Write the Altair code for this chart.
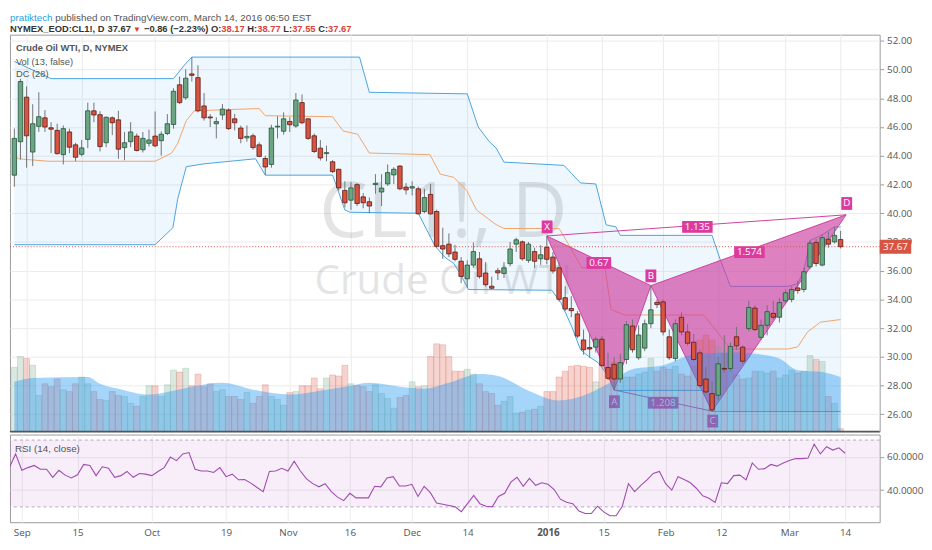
import altair as alt
import pandas as pd

FONT = "Open Sans"
HEAD_FONT = "Liberation Sans"
TEXT = "#555555"
DARK = "#333333"
RED = "#d9433a"
GRID = "#ececec"
TICK = "#9a9a9a"
UP, DOWN = "#6ba583", "#d75442"
UP_EDGE, DOWN_EDGE = "#225437", "#5b1a13"
WICK = "#737375"
DC_BLUE = "#4aa3df"
DC_ORANGE = "#f2a469"
PINK = "#d0409f"
PINK_FILL = "#cc3d9e"
RSI_COLOR = "#a04cb0"

W, H_MAIN, H_RSI = 883, 403, 89

# ---- daily bars, Aug 28 2015 (index -2) .. Mar 14 2016 (index 133) ----
first_bar = -2
opens = [
    42.65, 44.98, 48.08, 44.26, 46.05, 46.64, 45.95, 45.77, 44.08, 45.66,
    44.76, 44.10, 45.14, 47.13, 46.86, 44.91, 46.64, 46.50, 44.57, 44.98,
    45.37, 44.42, 44.87, 45.37, 45.05, 45.55, 46.18, 48.94, 48.04, 49.70,
    49.44, 47.47, 46.70, 46.23, 46.84, 47.18, 46.57, 45.93, 45.25, 45.39,
    44.76, 43.81, 43.40, 46.00, 45.71, 46.39, 46.07, 47.70, 46.57, 45.39,
    44.53, 44.15, 43.58, 43.06, 41.59, 40.91, 41.99, 41.14, 40.80, 42.00,
    41.48, 42.04, 42.67, 43.28, 41.82, 41.75, 41.70, 40.12, 41.31, 40.12,
    37.74, 37.85, 37.30, 36.66, 35.44, 36.39, 36.83, 35.84, 34.92, 36.00,
    35.81, 36.49, 37.85, 38.01, 36.72, 37.33, 36.83, 37.63, 36.95, 36.20,
    34.12, 33.37, 32.99, 31.18, 30.65, 30.68, 31.23, 29.26, 29.48, 28.46,
    29.82, 32.15, 29.94, 30.61, 32.31, 33.80, 33.83, 31.40, 29.89, 32.76,
    31.74, 31.02, 30.28, 28.46, 27.44, 27.33, 29.20, 29.19, 31.40, 30.68,
    31.97, 33.40, 31.36, 32.20, 33.03, 32.76, 33.90, 34.00, 34.80, 34.69,
    36.27, 37.97, 36.39, 38.19, 38.01, 38.17,
]
highs = [
    45.90, 49.35, 48.83, 47.59, 48.42, 47.18, 46.34, 46.23, 46.11, 45.89,
    44.90, 45.10, 47.70, 47.70, 47.10, 46.74, 46.74, 47.13, 45.66, 46.34,
    45.55, 45.66, 45.82, 47.09, 45.70, 46.90, 48.70, 49.51, 50.03, 50.87,
    50.30, 48.37, 46.90, 46.68, 47.60, 47.30, 46.91, 46.10, 46.11, 45.55,
    44.93, 44.00, 46.16, 46.75, 47.02, 46.68, 48.37, 48.27, 46.60, 45.55,
    45.10, 44.71, 43.70, 43.10, 42.22, 42.16, 42.10, 41.40, 41.10, 42.72,
    42.72, 43.40, 43.20, 43.35, 42.10, 42.22, 41.85, 41.70, 42.04, 40.25,
    38.99, 38.60, 37.80, 36.95, 36.72, 37.97, 37.30, 36.60, 35.59, 36.20,
    36.60, 38.00, 38.30, 38.10, 38.00, 37.60, 37.78, 38.42, 37.30, 36.60,
    34.91, 34.23, 33.20, 31.90, 31.60, 31.40, 31.45, 30.28, 30.00, 30.20,
    32.50, 32.60, 32.20, 32.60, 34.96, 34.00, 34.00, 31.90, 32.60, 33.10,
    32.30, 31.60, 30.50, 29.30, 28.30, 30.00, 31.52, 31.00, 32.08, 30.80,
    33.90, 33.60, 32.60, 33.60, 33.90, 34.10, 34.70, 34.90, 35.30, 36.20,
    38.10, 38.20, 38.50, 38.70, 39.05, 38.77,
]
lows = [
    41.84, 43.74, 43.17, 43.28, 45.66, 45.66, 44.19, 44.08, 43.40, 44.19,
    43.62, 43.96, 44.53, 46.34, 44.30, 44.60, 45.44, 43.79, 43.69, 44.60,
    44.30, 44.23, 44.64, 44.60, 44.01, 45.44, 45.89, 47.60, 47.90, 49.17,
    47.02, 46.45, 46.00, 45.21, 46.50, 45.80, 45.77, 44.87, 44.98, 44.42,
    43.90, 42.67, 43.17, 45.21, 45.48, 45.66, 45.95, 46.20, 45.10, 44.19,
    43.67, 43.62, 42.80, 41.59, 40.41, 40.23, 40.50, 40.34, 40.00, 41.36,
    40.50, 41.90, 42.04, 41.60, 41.30, 41.24, 39.90, 40.00, 39.90, 37.60,
    36.83, 36.95, 36.65, 35.14, 34.80, 36.20, 35.45, 34.90, 34.69, 35.35,
    35.50, 36.30, 37.30, 36.70, 36.55, 36.20, 36.40, 36.45, 35.80, 33.85,
    33.20, 32.76, 31.30, 30.16, 29.95, 30.30, 29.30, 28.40, 27.70, 28.20,
    29.50, 30.30, 29.80, 30.40, 32.00, 33.40, 31.50, 29.80, 29.70, 31.50,
    30.80, 29.70, 27.85, 27.40, 26.20, 27.00, 28.90, 29.00, 30.50, 29.50,
    31.80, 31.80, 31.18, 31.50, 32.60, 32.40, 33.70, 33.80, 34.40, 34.50,
    36.10, 36.30, 36.30, 37.60, 37.90, 37.55,
]
closes = [
    45.21, 49.17, 45.39, 46.23, 46.72, 46.00, 45.85, 44.15, 45.89, 44.60,
    43.90, 44.55, 47.13, 46.84, 44.64, 46.68, 46.30, 44.46, 44.91, 45.66,
    44.37, 45.21, 45.10, 44.69, 45.50, 46.23, 48.49, 47.70, 49.40, 49.60,
    47.13, 46.64, 46.64, 46.38, 47.25, 45.89, 46.30, 45.21, 45.35, 44.57,
    43.96, 43.22, 45.93, 46.06, 46.57, 46.16, 47.88, 46.30, 45.21, 44.30,
    43.85, 44.22, 42.90, 41.77, 40.73, 41.77, 40.68, 40.73, 40.50, 42.08,
    41.75, 42.83, 43.06, 41.70, 41.63, 41.85, 39.96, 41.09, 39.96, 37.70,
    37.51, 37.17, 36.79, 35.60, 36.39, 37.33, 35.59, 35.03, 34.78, 35.85,
    36.20, 37.51, 38.15, 36.83, 37.85, 36.66, 37.11, 36.79, 35.98, 34.01,
    33.33, 33.22, 31.45, 30.50, 30.55, 31.23, 29.41, 28.51, 28.46, 29.60,
    32.24, 30.50, 31.52, 32.31, 33.28, 33.64, 31.74, 29.94, 32.31, 31.74,
    30.95, 29.82, 28.00, 27.56, 26.31, 29.52, 29.15, 30.73, 30.77, 29.70,
    33.44, 31.90, 32.20, 33.15, 32.76, 33.78, 34.46, 34.69, 34.62, 35.93,
    37.92, 36.50, 38.30, 37.85, 38.46, 37.67,
]
# volume, thousand contracts
volumes = [
    528, 616, 600, 544, 296, 392, 368, 432, 344, 328,
    392, 448, 392, 328, 264, 256, 328, 296, 288, 232,
    208, 288, 376, 376, 288, 384, 504, 488, 520, 376,
    472, 368, 392, 328, 344, 288, 288, 264, 320, 232,
    288, 384, 288, 264, 216, 320, 328, 376, 376, 440,
    352, 440, 464, 456, 544, 392, 376, 368, 328, 384,
    312, 272, 192, 280, 296, 408, 368, 376, 616, 720,
    712, 616, 496, 496, 512, 472, 392, 328, 312, 216,
    248, 288, 152, 160, 176, 184, 208, 328, 328, 448,
    496, 536, 544, 536, 528, 408, 552, 496, 568, 528,
    448, 448, 472, 488, 600, 496, 528, 512, 536, 472,
    456, 536, 752, 792, 752, 696, 640, 496, 464, 432,
    440, 496, 496, 480, 496, 440, 464, 504, 480, 496,
    624, 592, 576, 288, 232, 24,
]
rsi = [
    53.5, 61.7, 51.9, 53.5, 54.8, 52.5, 52.5, 47.7, 51.9, 49.0,
    47.3, 49.2, 55.4, 54.8, 48.7, 54.0, 53.1, 47.7, 48.7, 51.2,
    47.7, 50.0, 49.6, 48.7, 51.2, 53.5, 59.8, 57.7, 61.7, 62.5,
    52.5, 51.5, 51.5, 50.6, 53.5, 48.1, 49.6, 46.2, 46.4, 44.2,
    41.6, 39.1, 51.2, 51.5, 53.1, 51.5, 57.3, 51.5, 46.8, 43.9,
    42.0, 43.9, 39.1, 35.8, 33.7, 38.1, 35.4, 35.4, 35.4, 42.3,
    42.0, 47.3, 48.1, 42.5, 42.5, 43.5, 36.2, 42.3, 38.5, 32.3,
    31.6, 30.8, 30.0, 27.1, 31.9, 36.8, 31.9, 30.4, 30.0, 36.2,
    38.1, 44.8, 47.7, 42.3, 47.1, 42.9, 44.4, 43.5, 40.4, 34.6,
    32.7, 31.9, 27.5, 26.0, 26.0, 30.4, 27.0, 24.7, 24.7, 30.4,
    43.9, 39.1, 42.9, 46.2, 50.0, 51.2, 43.9, 40.0, 48.1, 46.4,
    44.4, 41.0, 36.6, 35.2, 32.7, 44.4, 43.9, 48.7, 49.0, 46.2,
    56.3, 52.5, 52.9, 55.4, 54.4, 56.3, 57.7, 58.9, 58.9, 59.2,
    67.5, 61.7, 66.0, 64.0, 65.4, 62.1,
]

# volume moving average (13), read at its turning points
vol_ma_index = [-2, 1, 10, 12, 15, 20, 24, 27, 32, 37, 43, 48, 53, 56, 61, 65,
                69, 74, 77, 82, 87, 91, 95, 99, 104, 109, 115, 120, 123, 126, 130, 133]
vol_ma = [408, 440, 448, 392, 352, 304, 336, 368, 400, 344, 304, 336, 376, 400, 368, 352,
          400, 472, 456, 336, 256, 296, 392, 512, 544, 632, 648, 632, 600, 504, 488, 448]

# Donchian channel (28) vertices
dc_upper_index = [-2, 4, 24, 25.8, 27, 54.4, 56, 72, 73.8, 75.6, 76.7, 78, 87.8, 90.5,
                  93, 94.7, 96.3, 97, 112, 113.3, 115, 124.4, 126, 127, 128, 130, 132, 133]
dc_upper = [50.57, 49.37, 49.37, 50.32, 50.87, 50.87, 48.42, 48.31, 46.00, 44.98, 44.55,
            43.56, 43.33, 42.11, 42.04, 39.19, 39.05, 38.46, 38.46, 36.81, 34.91, 34.91,
            35.10, 36.00, 38.10, 38.50, 39.05, 39.05]
dc_lower_index = [-2, 21, 23.9, 24.7, 26.1, 29, 33.3, 37.4, 39, 50, 52, 52.8, 64, 66.7,
                  68.3, 69.8, 70.8, 72.2, 85.8, 87.3, 89.1, 90.5, 91.8, 93.4, 95, 96.1,
                  110.4, 112, 133]
dc_lower = [37.81, 37.81, 38.99, 41.02, 43.24, 43.44, 43.62, 43.79, 42.65, 42.65, 40.23,
            40.07, 40.00, 37.74, 36.95, 36.50, 35.82, 34.69, 34.64, 33.78, 32.08, 30.50,
            30.04, 29.60, 28.69, 27.67, 27.67, 26.20, 26.20]
dc_mid_index = [-2, -1.3, 3.5, 21, 23.7, 24.7, 26.1, 27.4, 38, 39, 50, 51.7, 54.1, 56,
                65.9, 67.6, 69.8, 71.9, 73.5, 76.7, 78, 87, 88.6, 90.7, 94.5, 95.5, 97.7,
                110.6, 112, 115, 124.4, 126, 127.6, 129.7, 133]
dc_mid = [43.96, 43.79, 43.62, 43.62, 44.19, 44.87, 46.45, 47.13, 47.29, 46.79, 46.72,
          45.73, 45.50, 44.19, 44.08, 42.72, 42.50, 41.59, 40.23, 39.21, 38.94, 38.94,
          37.80, 36.21, 36.21, 33.30, 32.92, 32.92, 32.20, 30.55, 30.55, 30.70, 31.74,
          32.42, 32.60]

# XABCD pattern
pattern_names = ["X", "A", "B", "C", "D"]
pattern_index = [85, 96, 102, 112, 133.9]
pattern_price = [38.42, 27.70, 34.96, 26.22, 39.89]
box_text = ["X", "A", "B", "C", "D", "0.67", "1.135", "1.574", "1.208"]
box_index = [85.05, 96.05, 102.0, 112.1, 134.0, 93.5, 109.6, 118.1, 104.0]
box_price = [39.05, 26.88, 35.64, 25.53, 40.68, 36.54, 39.05, 37.29, 26.81]

tick_index = [0, 9, 21, 33, 43, 53, 63, 72, 85, 94, 104, 113, 124, 133]
tick_text = ["Sep", "15", "Oct", "19", "Nov", "16", "Dec", "14", "2016", "15", "Feb",
             "12", "Mar", "14"]
price_ticks = list(range(26, 53, 2))
rsi_ticks = [40, 60]

# header, second line: (text, x, colour)
quote_parts = [
    ("NYMEX_EOD:CL1!, D", 0, DARK), ("37.67", 99, DARK), ("\u22120.86 (\u22122.23%)", 136, DARK),
    ("O:", 204, DARK), ("38.17", 214.5, RED), ("H:", 241, DARK), ("38.77", 251, RED),
    ("L:", 277.5, DARK), ("37.55", 286.5, RED), ("C:", 313, DARK), ("37.67", 323, RED),
]

# ---- tables ----
bars = pd.DataFrame({
    "i": list(range(first_bar, first_bar + len(closes))),
    "o": opens, "h": highs, "l": lows, "c": closes, "v": volumes, "r": rsi,
})
ma = pd.DataFrame({"i": vol_ma_index, "m": vol_ma})
dc_poly = pd.DataFrame({"i": dc_upper_index + dc_lower_index[::-1],
                        "v": dc_upper + dc_lower[::-1]})
dc_poly["s"] = range(len(dc_poly))
pt = dict(zip(pattern_names, zip(pattern_index, pattern_price)))
tri = pd.DataFrame([(g, s, pt[n][0], pt[n][1])
                    for g, names in enumerate(["XAB", "BCD"]) for s, n in enumerate(names)],
                   columns=["g", "s", "i", "v"])
legs = pd.DataFrame([(g, s, pt[n][0], pt[n][1])
                     for g, pair in enumerate(["XA", "AB", "XB", "BC", "CD", "BD", "XD", "AC"])
                     for s, n in enumerate(pair)],
                    columns=["g", "s", "i", "v"])
boxes = pd.DataFrame({"i": box_index, "v": box_price, "t": box_text})
boxes["w"] = [11 if len(t) == 1 else (25 if len(t) == 4 else 31) for t in box_text]
boxes["shape"] = ["M-1,-{0:.3f}L1,-{0:.3f}L1,{0:.3f}L-1,{0:.3f}Z".format((13 if len(t) == 1 else 12) / w)
                  for t, w in zip(boxes["t"], boxes["w"])]
boxes["size"] = boxes["w"] ** 2
last = pd.DataFrame({"v": [closes[-1]], "t": ["%.2f" % closes[-1]]})

# ---- scales and axes ----
x_scale = alt.Scale(domain=[-1.91, 138.58], nice=False, zero=False)
p_scale = alt.Scale(domain=[24.8, 52.43], nice=False, zero=False)
v_scale = alt.Scale(domain=[0, 3256], nice=False)
r_scale = alt.Scale(domain=[20.8, 73.3], nice=False, zero=False)

grid_x = alt.Axis(values=tick_index, labels=False, ticks=False, domain=False, grid=True,
                  gridColor=GRID, title=None)
price_axis = alt.Axis(orient="right", values=price_ticks, format=".2f", grid=True,
                      gridColor=GRID, domain=False, tickSize=4, tickColor=TICK,
                      labelColor=TEXT, labelFontSize=10, labelPadding=3, title=None)
label_expr = " : ".join("datum.value == %s ? '%s'" % (k, t)
                        for k, t in zip(tick_index, tick_text)) + " : ''"
bottom_axis = alt.Axis(values=tick_index, labelExpr=label_expr, grid=True, gridColor=GRID,
                       ticks=False, domain=False, labelColor=TEXT, labelFontSize=10,
                       labelPadding=5, labelFlush=False, labelOverlap=False, title=None,
                       labelFontWeight={"condition": {"test": "datum.value == 85", "value": "bold"},
                                        "value": "normal"})
rsi_axis = alt.Axis(orient="right", values=rsi_ticks, format=".4f", grid=True, gridColor=GRID,
                    domain=False, tickSize=4, tickColor=TICK, labelColor=TEXT,
                    labelFontSize=10, labelPadding=3, title=None)


def xq(field="i"):
    return alt.X(f"{field}:Q", scale=x_scale, axis=grid_x)


def yp(field, axis=True):
    return alt.Y(f"{field}:Q", scale=p_scale, axis=price_axis if axis else None)


def text_at(txt, x, y, color=TEXT, size=9.5, weight="normal", align="left", opacity=1.0,
            font=HEAD_FONT):
    return alt.Chart(pd.DataFrame({"t": [txt]})).mark_text(
        align=align, baseline="alphabetic", font=font, fontSize=size, fontWeight=weight,
        color=color, opacity=opacity,
    ).encode(x=alt.value(x), y=alt.value(y), text="t:N")


up = "datum.c >= datum.o"

# ---- price panel: channel, watermark, pattern ----
under = [
    alt.Chart(dc_poly).mark_line(fill="#2196f3", fillOpacity=0.08, strokeOpacity=0, clip=True)
    .encode(x=xq(), y=yp("v"), order="s:Q"),
    text_at("CL1!, D", 440, 205, color="#000000", size=78, align="center", opacity=0.1,
            font=FONT),
    text_at("Crude Oil WTI", 440, 263, color="#000000", size=41, align="center", opacity=0.1,
            font=FONT),
    alt.Chart(pd.DataFrame({"i": dc_upper_index, "v": dc_upper}))
    .mark_line(color=DC_BLUE, strokeWidth=1, clip=True).encode(x=xq(), y=yp("v")),
    alt.Chart(pd.DataFrame({"i": dc_lower_index, "v": dc_lower}))
    .mark_line(color=DC_BLUE, strokeWidth=1, clip=True).encode(x=xq(), y=yp("v")),
    alt.Chart(pd.DataFrame({"i": dc_mid_index, "v": dc_mid}))
    .mark_line(color=DC_ORANGE, strokeWidth=1, clip=True).encode(x=xq(), y=yp("v")),
    alt.Chart(tri).mark_line(fill=PINK_FILL, fillOpacity=0.65, strokeOpacity=0)
    .encode(x=xq(), y=yp("v"), detail="g:N", order="s:Q"),
    alt.Chart(legs).mark_line(color=PINK, strokeWidth=1)
    .encode(x=xq(), y=yp("v"), detail="g:N", order="s:Q"),
    alt.Chart(last).mark_rule(color=DOWN, strokeDash=[1, 2], strokeWidth=1).encode(y=yp("v")),
    alt.Chart(boxes).mark_point(filled=True, opacity=1, color="#dc3a9f")
    .encode(x=xq(), y=yp("v"), shape=alt.Shape("shape:N", scale=None),
            size=alt.Size("size:Q", scale=None)),
    alt.Chart(boxes).mark_text(color="white", font=FONT, fontSize=10, baseline="middle")
    .encode(x=xq(), y=yp("v"), text="t:N"),
]

# ---- volume ----
volume = [
    alt.Chart(bars).mark_bar(size=6, fillOpacity=0.25, strokeOpacity=0.4, strokeWidth=0.6, clip=True)
    .encode(x=xq(), y=alt.Y("v:Q", scale=v_scale, axis=None),
            color=alt.condition(up, alt.value(UP), alt.value(DOWN)),
            stroke=alt.condition(up, alt.value(UP), alt.value(DOWN))),
    alt.Chart(ma).mark_area(color="#2196f3", opacity=0.4, interpolate="monotone", clip=True)
    .encode(x=xq(), y=alt.Y("m:Q", scale=v_scale, axis=None)),
]

# ---- candles and captions ----
over = [
    alt.Chart(bars).mark_rule(color=WICK, strokeWidth=1, clip=True)
    .encode(x=xq(), y=yp("l", False), y2="h:Q"),
    alt.Chart(bars).mark_bar(size=4.5, strokeWidth=0.8, clip=True)
    .encode(x=xq(), y=yp("o", False), y2="c:Q",
            color=alt.condition(up, alt.value(UP), alt.value(DOWN)),
            stroke=alt.condition(up, alt.value(UP_EDGE), alt.value(DOWN_EDGE))),
    alt.Chart(pd.DataFrame({"a": [0]})).mark_rule(color="#555555", strokeWidth=1.5)
    .encode(y=alt.value(H_MAIN)),
    text_at("Crude Oil WTI, D, NYMEX", 6, 17, weight="bold"),
    text_at("Vol (13, false)", 6, 30.5),
    text_at("DC (28)", 6, 43),
    text_at("pratiktech", 0, -14, color="#2a9fd8", size=10),
    text_at("published on TradingView.com, March 14, 2016 06:50 EST", 46, -14, size=10),
    text_at("\u25bc", 125, -3, color=RED, size=8),
] + [
    text_at(t, x, -3, color=c, weight="bold") for t, x, c in quote_parts
] + [
    alt.Chart(last).mark_point(filled=True, opacity=1, color=DOWN,
                               shape="M-1,-0.44L1,-0.44L1,0.44L-1,0.44Z", size=1024)
    .encode(x=alt.value(W + 16), y=yp("v", False)),
    alt.Chart(last).mark_text(color="white", font=FONT, fontSize=10, baseline="middle")
    .encode(x=alt.value(W + 16), y=yp("v", False), text="t:N"),
]

main = alt.layer(
    alt.layer(*under), alt.layer(*volume), alt.layer(*over)
).resolve_scale(y="independent").properties(width=W, height=H_MAIN)

# ---- RSI panel ----
rsi_x = alt.X("i:Q", scale=x_scale, axis=bottom_axis)
rsi_panel = alt.layer(
    alt.Chart(pd.DataFrame({"lo": [30], "hi": [70]})).mark_rect(color="#9c27b0", opacity=0.08)
    .encode(x=alt.value(0), x2=alt.value(W),
            y=alt.Y("lo:Q", scale=r_scale, axis=rsi_axis), y2="hi:Q"),
    alt.Chart(pd.DataFrame({"v": [30, 70]})).mark_rule(color="#b9a3c6", strokeDash=[3, 3])
    .encode(y=alt.Y("v:Q", scale=r_scale, axis=rsi_axis)),
    alt.Chart(bars).mark_line(color=RSI_COLOR, strokeWidth=1.1, clip=True)
    .encode(x=rsi_x, y=alt.Y("r:Q", scale=r_scale, axis=rsi_axis)),
    text_at("RSI (14, close)", 5, 18, size=10),
).properties(width=W, height=H_RSI)

chart = (
    alt.vconcat(main, rsi_panel, spacing=0)
    .properties(padding=0)
    .configure_view(stroke="#9a9a9a")
    .configure_axis(labelFont=FONT)
)

chart.save("out.html", embed_options={"renderer": "svg", "actions": False})
